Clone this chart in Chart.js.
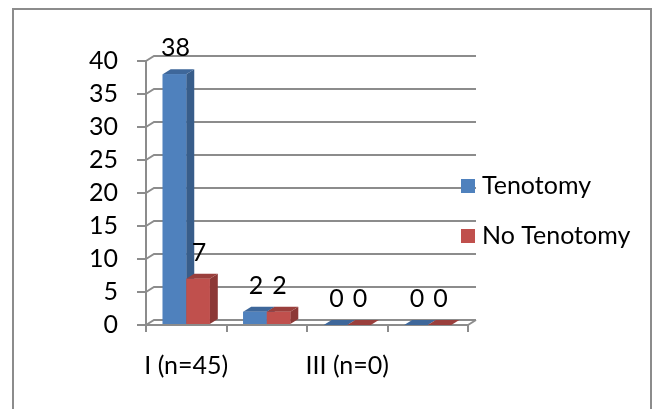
<!DOCTYPE html>
<html><head><meta charset="utf-8">
<script src="https://cdn.jsdelivr.net/npm/chart.js@4.4.0/dist/chart.umd.min.js"></script>
<style>
html,body{margin:0;padding:0;background:#fff;overflow:hidden;}
#wrap{position:relative;width:653px;height:409px;}
#frame{position:absolute;left:12px;top:8px;width:640px;height:430px;border:2px solid #8c8c8c;box-sizing:border-box;}
canvas{position:absolute;left:0;top:0;}
</style></head><body>
<div id="wrap"><div id="frame"></div><canvas id="c" width="653" height="409"></canvas></div>
<script>
// ---- data ----
const categories = ['I (n=45)', 'II (n=4)', 'III (n=0)', 'IV (n=0)'];
const seriesNames = ['Tenotomy', 'No Tenotomy'];
const tenotomy = [38, 2, 0, 0];
const noTenotomy = [7, 2, 0, 0];
const yMin = 0, yMax = 40, yStep = 5;

// ---- style ----
const FONT = 'Lato';
const FSIZE = 25;
const GRID = '#8c8c8c';
const DX = 8, DY = 5;
const frontColors = ['#4F81BD', '#C0504D'];
const sideColors = ['#385D8A', '#8C3836'];
const topColors = ['#3E679A', '#9A3F3C'];

const depthPlugin = {
  id: 'depth',
  beforeDatasetsDraw(chart) {
    const {ctx, chartArea, scales: {y}} = chart;
    ctx.save();
    ctx.strokeStyle = GRID; ctx.lineWidth = 2;
    y.ticks.forEach(t => {
      const py = y.getPixelForValue(t.value);
      ctx.beginPath();
      ctx.moveTo(chartArea.left, py);
      ctx.lineTo(chartArea.left + DX, py - DY);
      ctx.lineTo(chartArea.right + DX, py - DY);
      ctx.stroke();
    });
    const p0 = y.getPixelForValue(yMin);
    ctx.beginPath();
    ctx.moveTo(chartArea.right, p0);
    ctx.lineTo(chartArea.right + DX, p0 - DY);
    ctx.stroke();
    ctx.restore();
  },
  afterDatasetsDraw(chart) {
    const ctx = chart.ctx;
    ctx.save();
    chart.data.datasets.forEach((ds, i) => {
      const meta = chart.getDatasetMeta(i);
      meta.data.forEach(bar => {
        const {x, y, base, width} = bar.getProps(['x', 'y', 'base', 'width'], true);
        const l = x - width / 2, r = x + width / 2;
        ctx.fillStyle = sideColors[i];
        ctx.beginPath();
        ctx.moveTo(r, y); ctx.lineTo(r + DX, y - DY); ctx.lineTo(r + DX, base - DY); ctx.lineTo(r, base);
        ctx.closePath(); ctx.fill();
        ctx.fillStyle = topColors[i];
        ctx.beginPath();
        ctx.moveTo(l, y); ctx.lineTo(l + DX, y - DY); ctx.lineTo(r + DX, y - DY); ctx.lineTo(r, y);
        ctx.closePath(); ctx.fill();
        bar.draw(ctx, chart.chartArea);
      });
    });
    // value labels
    ctx.fillStyle = '#000';
    ctx.font = FSIZE + 'px ' + FONT;
    ctx.textAlign = 'center'; ctx.textBaseline = 'middle';
    chart.data.datasets.forEach((ds, i) => {
      const meta = chart.getDatasetMeta(i);
      meta.data.forEach((bar, j) => {
        ctx.fillText(String(ds.data[j]), bar.x + 1, bar.y - 26);
      });
    });
    ctx.restore();
  },
  afterDraw(chart) {
    const ctx = chart.ctx;
    ctx.save();
    ctx.font = FSIZE + 'px ' + FONT;
    ctx.textBaseline = 'middle'; ctx.textAlign = 'left';
    chart.data.datasets.forEach((ds, i) => {
      const cy = 186 + i * 50;
      ctx.fillStyle = ds.backgroundColor;
      ctx.fillRect(461, cy - 7, 14, 14);
      ctx.fillStyle = '#000';
      ctx.fillText(ds.label, 482, cy);
    });
    ctx.restore();
  }
};

new Chart(document.getElementById('c'), {
  type: 'bar',
  data: {
    labels: categories,
    datasets: [
      {label: seriesNames[0], data: tenotomy, backgroundColor: frontColors[0]},
      {label: seriesNames[1], data: noTenotomy, backgroundColor: frontColors[1]}
    ]
  },
  options: {
    responsive: false,
    animation: false,
    devicePixelRatio: 1,
    layout: {padding: {top: 61, right: 185, left: 0, bottom: 0}},
    datasets: {bar: {categoryPercentage: 0.585, barPercentage: 1.0}},
    plugins: {legend: {display: false}, tooltip: {enabled: false}},
    scales: {
      y: {
        min: yMin, max: yMax,
        afterFit(s) { s.width = 146; },
        ticks: {stepSize: yStep, color: '#000', font: {family: FONT, size: FSIZE}, padding: 19},
        grid: {drawOnChartArea: false, drawTicks: true, tickLength: 9, color: GRID, lineWidth: 2},
        border: {display: true, color: GRID, width: 2}
      },
      x: {
        afterFit(s) { s.height = 84; },
        ticks: {
          color: '#000', font: {family: FONT, size: FSIZE}, padding: 19, autoSkip: false, maxRotation: 0,
          callback(v, idx) { return idx % 2 === 0 ? categories[idx] : ''; }
        },
        grid: {drawOnChartArea: false, drawTicks: true, tickLength: 7, color: GRID, lineWidth: 2, offset: true},
        border: {display: true, color: GRID, width: 2}
      }
    }
  },
  plugins: [depthPlugin]
});
</script>
</body></html>
